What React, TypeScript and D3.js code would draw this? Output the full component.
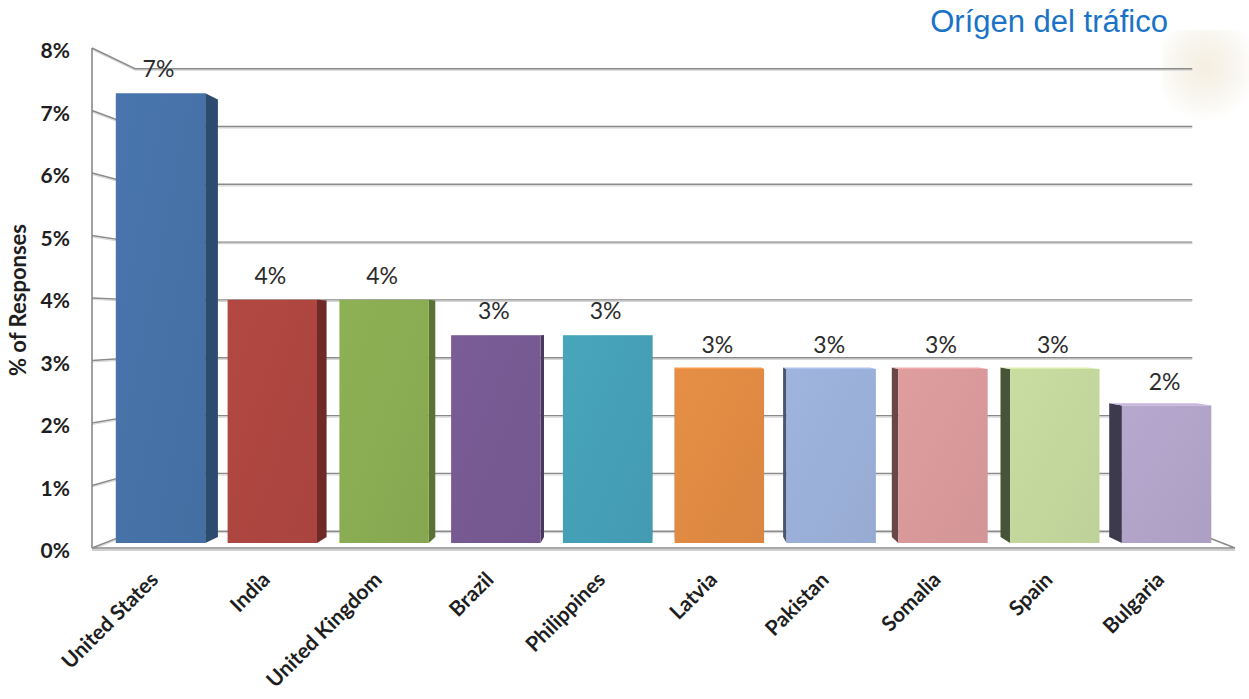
import React from 'react';
import * as d3 from 'd3';

const categories = ['United States', 'India', 'United Kingdom', 'Brazil', 'Philippines', 'Latvia', 'Pakistan', 'Somalia', 'Spain', 'Bulgaria'];
const values = [7.36, 3.98, 3.98, 3.4, 3.4, 2.85, 2.85, 2.85, 2.85, 2.25];
const yTicks = [0, 1, 2, 3, 4, 5, 6, 7, 8];
const frontColors = ['#4672a8', '#ae4640', '#8aac52', '#775a92', '#45a0b7', '#e08a43', '#9bb0d8', '#d9999a', '#c3d79c', '#b2a3c9'];
const sideColors = ['#2d4a6f', '#6e2a27', '#5a7234', '#4a385c', '#2c6878', '#9a5a28', '#4a5670', '#6a4646', '#485438', '#3e3a4e'];
const yTitle = '% of Responses';
const title = 'Orígen del tráfico';

const W = 1249;
const H = 699;
const VX = 665;
const VY = 324;
const K_BACK = 0.925;
const S_FRONT = 0.978;
const S_BACK = 0.951;

function P(x: number, y: number, s: number): [number, number] {
  return [VX + (x - VX) * s, VY + (y - VY) * s];
}
function poly(pts: [number, number][]) {
  return pts.map((p) => p[0].toFixed(1) + ',' + p[1].toFixed(1)).join(' ');
}

export default function App() {
  const x = d3.scaleBand<string>().domain(categories).range([92, 1235]).paddingInner(0.2).paddingOuter(0.1);
  const y = d3.scaleLinear().domain([0, 8]).range([548, 48]);
  const bw = x.bandwidth();
  const fmt = (v: number) => d3.format('.0%')(v / 100);
  const x0 = 92, x1 = 1235;
  const gridColor = '#8a8a8a';

  return (
    <svg width={W} height={H} style={{ position: 'absolute', left: 0, top: 0, background: '#fff' }}>
      <defs>
        <radialGradient id="wm" cx="0.5" cy="0.4" r="0.6">
          <stop offset="0" stopColor="#f1ead8" />
          <stop offset="0.6" stopColor="#f7f4ec" />
          <stop offset="1" stopColor="#ffffff" />
        </radialGradient>
        {frontColors.map((c, i) => (
          <linearGradient key={i} id={'g' + i} x1="0" y1="0" x2="1" y2="1">
            <stop offset="0" stopColor={d3.color(c)!.brighter(0.08).formatHex()} />
            <stop offset="1" stopColor={d3.color(c)!.darker(0.08).formatHex()} />
          </linearGradient>
        ))}
      </defs>
      <rect x={1162} y={30} width={87} height={92} fill="url(#wm)" opacity={0.8} />
      <text x={1168} y={32} textAnchor="end" fontFamily="Liberation Sans, Arial, sans-serif" fontSize={31} fill="#1a73c6">{title}</text>

      {/* back wall gridlines and left wall lines */}
      {yTicks.map((t) => {
        const yy = y(t);
        const a = P(x0, yy, 1);
        const b = P(x0, yy, K_BACK);
        const c = P(x1, yy, K_BACK);
        return (
          <g key={t}>
            <polyline points={poly([[a[0], a[1] + 1.5], [b[0], b[1] + 1.5], [c[0], c[1] + 1.5]])} fill="none" stroke="#d6d6d6" strokeWidth={1.2} />
            <polyline points={poly([a, b, c])} fill="none" stroke={gridColor} strokeWidth={1.4} />
          </g>
        );
      })}
      {/* floor */}
      {(() => {
        const a = P(x0, y(0), 1);
        const b = P(x1, y(0), 1);
        const c = P(x1, y(0), K_BACK);
        return (
          <g>
            <line x1={a[0]} y1={a[1] + 2} x2={b[0]} y2={b[1] + 2} stroke="#d0d0d0" strokeWidth={2} />
            <polyline points={poly([a, b, c])} fill="none" stroke={gridColor} strokeWidth={1.6} />
          </g>
        );
      })()}
      <line x1={x0} y1={y(0)} x2={x0} y2={y(8)} stroke={gridColor} strokeWidth={1.6} />

      {/* bars */}
      {categories.map((cat, i) => {
        const bx0 = x(cat)!;
        const bx1 = bx0 + bw;
        const yt = y(values[i]);
        const yb = y(0);
        const front = [P(bx0, yt, S_FRONT), P(bx1, yt, S_FRONT), P(bx1, yb, S_FRONT), P(bx0, yb, S_FRONT)] as [number, number][];
        const parts: React.ReactNode[] = [];
        if (P(bx1, yt, S_FRONT)[0] < VX) {
          parts.push(<polygon key="s" points={poly([P(bx1, yt, S_FRONT), P(bx1, yt, S_BACK), P(bx1, yb, S_BACK), P(bx1, yb, S_FRONT)])} fill={sideColors[i]} />);
        }
        if (P(bx0, yt, S_FRONT)[0] > VX) {
          parts.push(<polygon key="s2" points={poly([P(bx0, yt, S_FRONT), P(bx0, yt, S_BACK), P(bx0, yb, S_BACK), P(bx0, yb, S_FRONT)])} fill={sideColors[i]} />);
        }
        if (yt > VY) {
          parts.push(<polygon key="t" points={poly([P(bx0, yt, S_FRONT), P(bx1, yt, S_FRONT), P(bx1, yt, S_BACK), P(bx0, yt, S_BACK)])} fill={d3.color(frontColors[i])!.brighter(0.3).formatHex()} />);
        }
        const top = P(bx0 + bw / 2, yt, S_FRONT);
        return (
          <g key={cat}>
            {parts}
            <polygon points={poly(front)} fill={`url(#g${i})`} />
            <text x={top[0] - 2} y={top[1] - 16} textAnchor="middle" fontFamily="Lato, 'Open Sans', sans-serif" fontSize={23} fill="#2b2b2b">{fmt(values[i])}</text>
          </g>
        );
      })}

      {/* y tick labels */}
      {yTicks.map((t) => (
        <text key={t} x={70} y={y(t) + 3} dy="0.35em" textAnchor="end" fontFamily="Lato, sans-serif" fontWeight="bold" fontSize={21} fill="#1e1e1e">{t + '%'}</text>
      ))}
      <text transform={`translate(26,300) rotate(-90)`} textAnchor="middle" fontFamily="Lato, sans-serif" fontWeight="bold" fontSize={22} fill="#1e1e1e">{yTitle}</text>

      {/* category labels */}
      {categories.map((cat) => {
        const p = P(x(cat)! + bw / 2, y(0), S_FRONT);
        return (
          <text key={cat} transform={`translate(${p[0] - 1},${581}) rotate(-45)`} textAnchor="end" fontFamily="Lato, sans-serif" fontWeight="bold" fontSize={21} fill="#1e1e1e">{cat}</text>
        );
      })}
    </svg>
  );
}
